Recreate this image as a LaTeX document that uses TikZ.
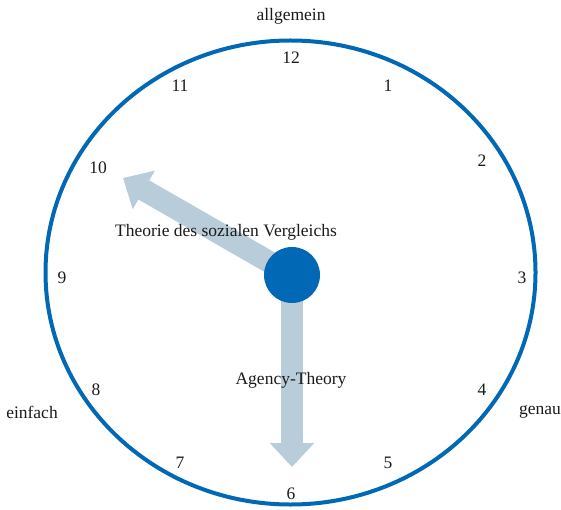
\documentclass[tikz,border=0pt]{standalone}
\usepackage{fontspec}
\setmainfont{Liberation Serif}
\usepackage{tikz}
\usetikzlibrary{arrows.meta,shapes.geometric}
\definecolor{dialblue}{HTML}{0068B4}
\definecolor{handgrey}{HTML}{B8CCDA}
\definecolor{ink}{HTML}{1A1A1A}
\tikzset{
  ring/.style={ellipse, draw=dialblue, line width=4pt, inner sep=0pt,
               minimum width=490pt, minimum height=464pt},
  hub/.style={circle, fill=dialblue, inner sep=0pt, minimum size=56pt},
  hand/.style={draw=handgrey, line width=22pt,
               -{Triangle[width=43pt,length=24pt]}},
  num/.style={font=\fontsize{17.5}{20}\selectfont, text=ink, inner sep=1pt},
  lbl/.style={font=\fontsize{17.5}{20}\selectfont, text=ink, inner sep=1pt}
}

\begin{document}
\begin{tikzpicture}[x=1pt,y=-1pt]
  \useasboundingbox (0,0) rectangle (561,510);
  \node[ring] (dial) at (290.5,272.5) {};

  % hour marks
  \foreach \n/\x/\y in {12/291/58,1/388/86,2/482/161,3/522/278,4/482/390,5/388/463,
                        6/291/494,7/180/463,8/96/390,9/62/278,10/98/168,11/180/86}
     \node[num] (h\n) at (\x,\y) {\n};

  \node[lbl] (top) at (291,16) {allgemein};
  \node[lbl] (left) at (32,412) {einfach};
  \node[lbl] (right) at (540,412) {genau};

  % hands
  \coordinate (pivot) at (292,275);
  \coordinate (tip10) at (123,178);
  \coordinate (tip6) at (292,467);
  \draw[hand] (pivot) -- (tip10);
  \draw[hand] (pivot) -- (tip6);
  \node[hub] (hub) at (pivot) {};

  \node[lbl] (social) at (226,232) {Theorie des sozialen Vergleichs};
  \node[lbl] (agency) at (291,380) {Agency-Theory};
\end{tikzpicture}
\end{document}
